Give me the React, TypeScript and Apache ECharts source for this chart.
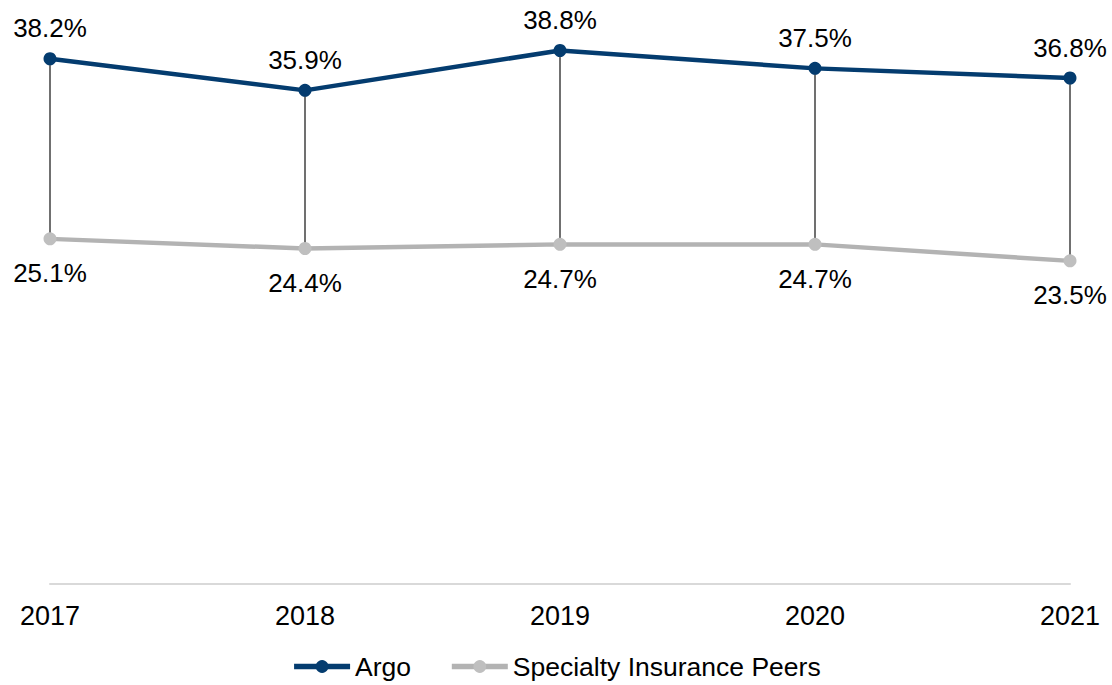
import React, { useEffect, useRef } from "react";
import * as echarts from "echarts";

const years = ["2017", "2018", "2019", "2020", "2021"];
const argo = [38.2, 35.9, 38.8, 37.5, 36.8];
const peers = [25.1, 24.4, 24.7, 24.7, 23.5];
const seriesNames = ["Argo", "Specialty Insurance Peers"];

export default function App() {
  const ref = useRef<HTMLDivElement>(null);
  useEffect(() => {
    if (!ref.current) return;
    const chart = echarts.init(ref.current, null, { renderer: "svg" });
    const font = "'Liberation Sans', Arial, sans-serif";
    const dropData = years.map((_, i) => [i, argo[i], peers[i]]);
    chart.setOption({
      animation: false,
      textStyle: { fontFamily: font },
      grid: { left: 50, right: 42, top: 34, bottom: 101 },
      xAxis: {
        type: "category",
        data: years,
        boundaryGap: false,
        axisLine: { lineStyle: { color: "#d9d9d9", width: 2 } },
        axisTick: { show: false },
        axisLabel: { color: "#000", fontSize: 27, margin: 18, fontFamily: font },
      },
      yAxis: {
        type: "value",
        min: 0,
        max: 40,
        show: false,
        splitLine: { show: false },
      },
      legend: {
        bottom: 0,
        left: "center",
        itemWidth: 56,
        itemHeight: 16,
        itemGap: 38,
        lineStyle: { width: 5.5 },
        textStyle: { fontSize: 26.5, color: "#000", fontFamily: font },
        data: seriesNames,
      },
      series: [
        {
          type: "custom",
          silent: true,
          z: 1,
          data: dropData,
          renderItem: (params: any, api: any) => {
            const p1 = api.coord([api.value(0), api.value(1)]);
            const p2 = api.coord([api.value(0), api.value(2)]);
            return {
              type: "line",
              shape: { x1: p1[0], y1: p1[1], x2: p2[0], y2: p2[1] },
              style: { stroke: "#404040", lineWidth: 1.5 },
            };
          },
        },
        {
          name: seriesNames[0],
          type: "line",
          z: 3,
          data: argo,
          symbol: "circle",
          symbolSize: 13,
          itemStyle: { color: "#043c6f" },
          lineStyle: { color: "#043c6f", width: 4.5 },
          label: {
            show: true,
            position: "top",
            distance: 11,
            fontSize: 26,
            color: "#000",
            fontFamily: font,
            formatter: (p: any) => p.value.toFixed(1) + "%",
          },
        },
        {
          name: seriesNames[1],
          type: "line",
          z: 2,
          data: peers,
          symbol: "circle",
          symbolSize: 13,
          itemStyle: { color: "#bfbfbf" },
          lineStyle: { color: "#b3b3b3", width: 4.5 },
          label: {
            show: true,
            position: "bottom",
            distance: 15,
            fontSize: 26,
            color: "#000",
            fontFamily: font,
            formatter: (p: any) => p.value.toFixed(1) + "%",
          },
        },
      ],
    });
    return () => chart.dispose();
  }, []);
  return <div ref={ref} style={{ width: 1112, height: 685, position: "absolute", left: 0, top: 0 }} />;
}
